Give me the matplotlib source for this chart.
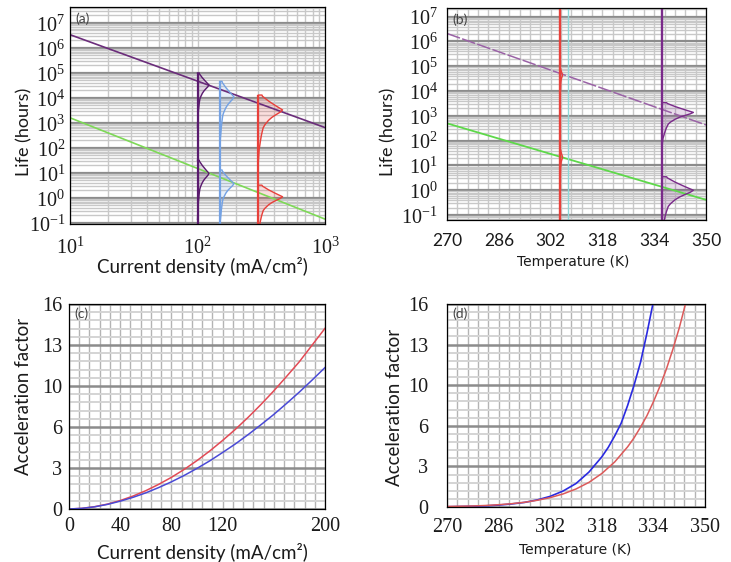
import numpy as np
import matplotlib
matplotlib.use('Agg')
import matplotlib.pyplot as plt
from matplotlib.ticker import FixedLocator, LogLocator, NullFormatter

plt.rcParams['mathtext.fontset'] = 'custom'
plt.rcParams['mathtext.rm'] = 'Liberation Serif'
plt.rcParams['mathtext.it'] = 'Liberation Serif:italic'
plt.rcParams['mathtext.bf'] = 'Liberation Serif:bold'

W, H = 731, 562

# (a) life vs current density (mA/cm2)
a_j = [10, 1000]
a_life_purple = [3.4e6, 650]
a_life_green = [1600, 0.14]
a_vert_j = [100, 150, 300]
a_vert_colors = ['#5a1a6e', '#74a2e4', '#e8403a']
a_up_top = [1.0e5, 4.6e4, 1.3e4]
a_up_peak = [3.3e4, 1.1e4, 3.3e3]
a_lo_top = [32, 13, 3.2]
a_lo_peak = [9.5, 3.7, 1.1]
a_width = [0.09, 0.11, 0.19]  # in decades of current density

# (b) life vs temperature (K)
b_T = [270, 350]
b_life_purple = [2.1e6, 430]
b_life_green = [500, 0.41]
b_vert_T = [305, 336.4]
b_vert_colors = ['#e8403a', '#7a2a8a']
b_up_top = [8.0e4, 3400]
b_up_peak = [4.5e4, 1380]
b_lo_top = [42, 3.5]
b_lo_peak = [22, 1.0]
b_width = [0.7, 9.7]

# sideways life distribution shape:
# distance below the top (in top->peak units) and relative width
prof_t = [0, 0, 0.08, 0.4, 0.7, 1.0, 1.15, 1.33, 1.5, 1.7, 2.0, 2.2, 2.6, 2.95, 3.7, 4.5]
prof_h = [0, 0.15, 0.17, 0.42, 0.7, 1.0, 0.9, 0.72, 0.56, 0.42, 0.27, 0.2, 0.14, 0.1, 0.03, 0]

# (c) acceleration factor vs current density
c_j = [0, 10, 20, 30, 40, 50, 60, 70, 80, 90, 100, 110, 120, 130, 140, 150, 160, 170, 180, 190, 200]
c_red = [0.0, 0.05, 0.18, 0.38, 0.66, 1.01, 1.43, 1.92, 2.47, 3.09, 3.78, 4.53, 5.35, 6.22, 7.16,
         8.16, 9.22, 10.35, 11.5, 12.8, 14.1]
c_blue = [0.0, 0.05, 0.17, 0.36, 0.61, 0.91, 1.26, 1.67, 2.12, 2.62, 3.17, 3.76, 4.41, 5.08, 5.81,
          6.58, 7.38, 8.24, 9.13, 10.07, 11.04]

# (d) acceleration factor vs temperature
d_T_blue = [270, 274, 278, 282, 286, 290, 294, 298, 302, 306, 310, 314, 318, 320, 322, 324, 326,
            328, 330, 332, 334]
d_blue = [0.02, 0.04, 0.06, 0.09, 0.15, 0.24, 0.36, 0.56, 0.84, 1.26, 1.85, 2.75, 3.95, 4.7, 5.6,
          6.6, 8.0, 9.6, 11.4, 13.7, 16.2]
d_T_red = [270, 274, 278, 282, 286, 290, 294, 298, 302, 306, 310, 314, 318, 322, 326, 328, 330, 332,
           334, 336, 338, 340, 342, 344]
d_red = [0.04, 0.06, 0.08, 0.12, 0.18, 0.26, 0.37, 0.53, 0.74, 1.03, 1.42, 1.94, 2.64, 3.55, 4.74,
         5.45, 6.29, 7.2, 8.29, 9.5, 10.85, 12.4, 14.1, 16.05]

SERIF = 'Liberation Serif'
SANS = 'Lato'
TICK = 14.5


def px_axes(fig, left, top, right, bottom):
    return fig.add_axes([left / W, 1 - bottom / H, (right - left) / W, (bottom - top) / H])


def style(ax):
    ax.set_axisbelow(True)
    ax.tick_params(which='both', length=0, colors='#1a1a1a')
    for s in ax.spines.values():
        s.set_color('black')
        s.set_linewidth(0.9)


def sideways(ax, x0, top, peak, width, color, logx):
    lt, lp = np.log10(top), np.log10(peak)
    life = 10 ** (lt - np.array(prof_t) * (lt - lp))
    h = width * np.array(prof_h)
    x = x0 * 10 ** h if logx else x0 + h
    ax.fill_betweenx(life, x0, x, color=color, alpha=0.17, lw=0)
    ax.plot(x, life, color=color, lw=1.0)


def exp_label(k):
    return r'$10^{%d}$' % k


fig = plt.figure(figsize=(W / 100, H / 100), dpi=100)

# ---------- (a) ----------
ax = px_axes(fig, 70, 7, 325, 224)
style(ax)
ax.set_xscale('log')
ax.set_yscale('log')
ax.set_xlim(10, 1000)
ax.set_ylim(10 ** -1.05, 10 ** 7.64)
ax.set_xticks([10, 100, 1000], [exp_label(k) for k in (1, 2, 3)], fontsize=TICK)
ax.set_yticks([10.0 ** k for k in range(-1, 8)], [exp_label(k) for k in range(-1, 8)], fontsize=TICK)
ax.xaxis.set_minor_locator(LogLocator(base=10, subs=np.arange(2, 10), numticks=50))
ax.yaxis.set_minor_locator(LogLocator(base=10, subs=np.arange(2, 10), numticks=50))
ax.xaxis.set_minor_formatter(NullFormatter())
ax.yaxis.set_minor_formatter(NullFormatter())
ax.tick_params(axis='x', pad=9)
ax.tick_params(axis='y', pad=3.5)
ax.grid(which='both', axis='x', color='#c8c8c8', lw=1.0)
ax.grid(which='minor', axis='y', color='#c8c8c8', lw=1.0)
ax.grid(which='major', axis='y', color='#8c8c8c', lw=1.6)
ax.plot(a_j, a_life_purple, color='#6b2d7b', lw=1.2)
ax.plot(a_j, a_life_green, color='#7ed957', lw=1.2)
ybot = ax.get_ylim()[0]
for i, x0 in enumerate(a_vert_j):
    col = a_vert_colors[i]
    ax.vlines(x0, ybot, a_up_top[i], color=col, lw=1.6)
    sideways(ax, x0, a_up_top[i], a_up_peak[i], a_width[i], col, True)
    sideways(ax, x0, a_lo_top[i], a_lo_peak[i], a_width[i], col, True)
ax.text(0.02, 0.975, '(a)', transform=ax.transAxes, ha='left', va='top',
        fontsize=10, family=SANS, color='#444444')

# ---------- (b) ----------
ax = px_axes(fig, 447, 8, 706, 220)
style(ax)
ax.set_yscale('log')
ax.set_xlim(270, 350)
ax.set_ylim(10 ** -1.2, 10 ** 7.35)
ax.set_xticks([270, 286, 302, 318, 334, 350], ['270', '286', '302', '318', '334', '350'],
              fontsize=12.5, family=SANS)
ax.set_yticks([10.0 ** k for k in range(-1, 8)], [exp_label(k) for k in range(-1, 8)], fontsize=TICK)
ax.xaxis.set_minor_locator(FixedLocator(np.arange(270, 350.1, 3.2)))
ax.yaxis.set_minor_locator(LogLocator(base=10, subs=np.arange(2, 10), numticks=50))
ax.yaxis.set_minor_formatter(NullFormatter())
ax.tick_params(axis='x', pad=9)
ax.tick_params(axis='y', pad=6.5)
ax.grid(which='both', axis='x', color='#c8c8c8', lw=1.0)
ax.grid(which='minor', axis='y', color='#c8c8c8', lw=1.0)
ax.grid(which='major', axis='y', color='#8c8c8c', lw=1.6)
ax.plot(b_T, b_life_purple, color='#9a62a6', lw=1.1, dashes=(9, 1.5))
ax.plot(b_T, b_life_green, color='#5ed84a', lw=1.3)
ax.axvline(307.3, color='#8fd8d8', lw=1.0)
for i, t0 in enumerate(b_vert_T):
    col = b_vert_colors[i]
    ax.axvline(t0, color=col, lw=1.7)
    sideways(ax, t0, b_up_top[i], b_up_peak[i], b_width[i], col, False)
    sideways(ax, t0, b_lo_top[i], b_lo_peak[i], b_width[i], col, False)
ax.text(0.02, 0.975, '(b)', transform=ax.transAxes, ha='left', va='top',
        fontsize=10, family=SANS, color='#444444')

# ---------- (c) ----------
af_ticks = [0, 3.2, 6.4, 9.6, 12.8, 16]
af_labels = ['0', '3', '6', '10', '13', '16']

ax = px_axes(fig, 69, 304, 325, 509)
style(ax)
ax.set_xlim(0, 200)
ax.set_ylim(0, 16)
ax.set_xticks([0, 40, 80, 120, 200], ['0', '40', '80', '120', '200'], fontsize=TICK, family=SERIF)
ax.set_yticks(af_ticks, af_labels, fontsize=TICK, family=SERIF)
ax.xaxis.set_minor_locator(FixedLocator(np.arange(0, 200.1, 8)))
ax.yaxis.set_minor_locator(FixedLocator(np.arange(0, 16.01, 0.64)))
ax.tick_params(axis='x', pad=6)
ax.tick_params(axis='y', pad=5)
ax.grid(which='both', axis='x', color='#b4b4b4', lw=1.0)
ax.grid(which='minor', axis='y', color='#d4d4d4', lw=1.4)
ax.grid(which='major', axis='y', color='#8c8c8c', lw=1.8)
ax.plot(c_j, c_red, color='#e24a55', lw=1.1)
ax.plot(c_j, c_blue, color='#4a4ad6', lw=1.1)
ax.text(0.02, 0.985, '(c)', transform=ax.transAxes, ha='left', va='top',
        fontsize=10, family=SANS, color='#444444')

# ---------- (d) ----------
ax = px_axes(fig, 447, 304, 705, 507)
style(ax)
ax.set_xlim(270, 350)
ax.set_ylim(0, 16)
ax.set_xticks([270, 286, 302, 318, 334, 350], ['270', '286', '302', '318', '334', '350'],
              fontsize=TICK, family=SERIF)
ax.set_yticks(af_ticks, af_labels, fontsize=TICK, family=SERIF)
ax.xaxis.set_minor_locator(FixedLocator(np.arange(270, 350.1, 3.2)))
ax.yaxis.set_minor_locator(FixedLocator(np.arange(0, 16.01, 0.64)))
ax.tick_params(axis='x', pad=8)
ax.tick_params(axis='y', pad=13.5)
ax.grid(which='both', axis='x', color='#b4b4b4', lw=1.0)
ax.grid(which='minor', axis='y', color='#d4d4d4', lw=1.4)
ax.grid(which='major', axis='y', color='#8c8c8c', lw=1.8)
ax.plot(d_T_blue, d_blue, color='#2a2ae0', lw=1.2)
ax.plot(d_T_red, d_red, color='#dc5a5a', lw=1.1)
ax.text(0.02, 0.985, '(d)', transform=ax.transAxes, ha='left', va='top',
        fontsize=10, family=SANS, color='#444444')

# axis titles placed where they sit in the reference
def ftext(x, y, s, **kw):
    fig.text(x / W, 1 - y / H, s, ha='center', va='center', color='#1a1a1a', **kw)

ftext(24, 132, 'Life (hours)', rotation=90, fontsize=13, family=SANS)
ftext(202, 267, 'Current density (mA/cm\u00b2)', fontsize=13.5, family=SANS)
ftext(388, 132, 'Life (hours)', rotation=90, fontsize=13, family=SANS)
ftext(573, 262, 'Temperature (K)', fontsize=10, family='DejaVu Sans')
ftext(24, 396, 'Acceleration factor', rotation=90, fontsize=13.5, family=SANS)
ftext(202, 552, 'Current density (mA/cm\u00b2)', fontsize=13.5, family=SANS)
ftext(394, 407, 'Acceleration factor', rotation=90, fontsize=13.5, family=SANS)
ftext(575, 550, 'Temperature (K)', fontsize=10, family='DejaVu Sans')

fig.savefig('out.png', dpi=100)
